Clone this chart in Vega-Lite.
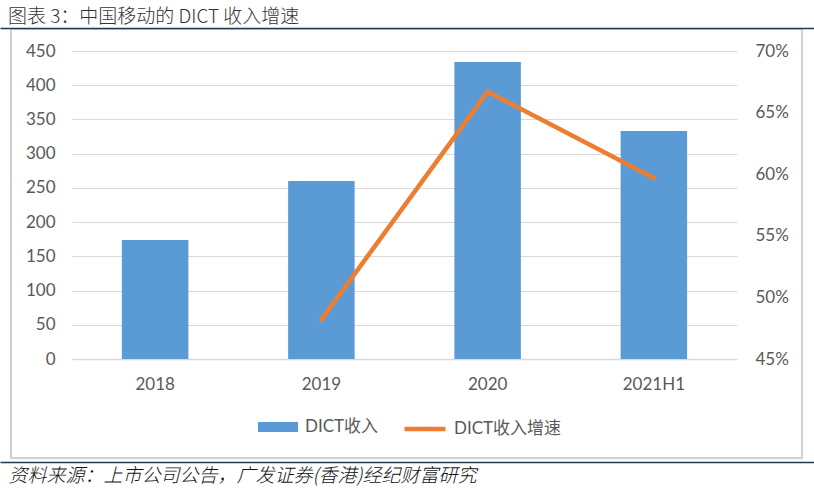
{
  "$schema": "https://vega.github.io/schema/vega-lite/v6.json",
  "autosize": "none",
  "width": 791,
  "height": 429,
  "padding": {"left": 11, "top": 29, "right": 12, "bottom": 34},
  "background": "white",
  "title": {
    "text": "图表 3：中国移动的 DICT 收入增速",
    "anchor": "start",
    "frame": "group",
    "dx": -3,
    "offset": 1,
    "font": "Noto Sans CJK SC",
    "fontSize": 19,
    "fontWeight": 300,
    "color": "#333333"
  },
  "config": {
    "view": {"stroke": "#d0d0d0", "strokeWidth": 2},
    "axis": {"labelFont": "Lato", "labelFontSize": 17, "labelColor": "#595959"},
    "legend": {"labelFont": "Lato, Noto Sans CJK SC", "labelFontSize": 17, "labelColor": "#595959", "padding": 0, "title": null}
  },
  "data": {
    "values": [
      {"year": "2018", "revenue": 174, "growth": null},
      {"year": "2019", "revenue": 260, "growth": 0.482},
      {"year": "2020", "revenue": 434, "growth": 0.667},
      {"year": "2021H1", "revenue": 333, "growth": 0.597}
    ]
  },
  "layer": [
    {
      "mark": {"type": "bar"},
      "encoding": {
        "x": {
          "field": "year", "type": "nominal", "sort": null,
          "scale": {"domain": ["2018", "2019", "2020", "2021H1"], "range": [61, 726], "paddingInner": 0.6, "paddingOuter": 0.3},
          "axis": {
            "orient": "bottom", "offset": -99, "domain": true, "domainColor": "#d9d9d9", "domainWidth": 1.5,
            "ticks": false, "tickSize": 0, "labelPadding": 17, "labelAngle": 0, "grid": false,
            "title": "资料来源：上市公司公告，广发证券(香港)经纪财富研究",
            "titleX": -3, "titleY": 116, "titleAlign": "left", "titleAnchor": "start", "titleBaseline": "middle",
            "titleFont": "Noto Sans CJK SC", "titleFontSize": 19, "titleFontStyle": "italic", "titleFontWeight": 300, "titleColor": "#111111"
          }
        },
        "y": {
          "field": "revenue", "type": "quantitative",
          "scale": {"domain": [0, 450], "range": [330, 22], "nice": false},
          "axis": {
            "orient": "left", "offset": -61, "values": [0, 50, 100, 150, 200, 250, 300, 350, 400, 450],
            "grid": true, "gridColor": "#d9d9d9", "gridWidth": 1, "domain": false, "ticks": false, "tickSize": 0,
            "labelPadding": 17, "title": null
          }
        },
        "color": {
          "datum": "DICT收入",
          "scale": {"range": ["#5b9bd5"]},
          "legend": {
            "orient": "none", "legendX": 257, "legendY": 388,
            "symbolType": "M-2,-0.5H2V0.5H-2Z", "symbolSize": 400, "symbolStrokeWidth": 0, "labelOffset": 17
          }
        }
      }
    },
    {
      "transform": [{"filter": "isValid(datum.growth)"}],
      "mark": {"type": "line", "strokeWidth": 4.5, "strokeCap": "round", "strokeJoin": "round"},
      "encoding": {
        "x": {
          "field": "year", "type": "nominal", "sort": null,
          "scale": {"domain": ["2018", "2019", "2020", "2021H1"], "range": [61, 726], "paddingInner": 0.6, "paddingOuter": 0.3},
          "axis": null
        },
        "y": {
          "field": "growth", "type": "quantitative",
          "scale": {"domain": [0.45, 0.70], "range": [330, 22], "nice": false, "zero": false},
          "axis": {
            "orient": "right", "offset": -65, "format": ".0%", "values": [0.45, 0.5, 0.55, 0.6, 0.65, 0.7],
            "grid": false, "domain": false, "ticks": false, "tickSize": 0, "labelPadding": 18, "title": null
          }
        },
        "color": {
          "datum": "DICT收入增速",
          "scale": {"range": ["#ed7d31"]},
          "legend": {
            "orient": "none", "legendX": 391, "legendY": 377,
            "symbolType": "stroke", "symbolSize": 1681, "symbolStrokeWidth": 4.5, "labelOffset": 6
          }
        }
      }
    },
    {
      "data": {"values": [{"k": "a"}]},
      "mark": {"type": "point", "opacity": 0},
      "encoding": {
        "x": {
          "field": "k", "type": "nominal",
          "scale": {"range": [-11, 803]},
          "axis": {"orient": "top", "offset": 1, "domain": true, "domainColor": "#1f3a52", "domainWidth": 1.5, "labels": false, "ticks": false, "grid": false, "title": null}
        }
      }
    },
    {
      "data": {"values": [{"k2": "b"}]},
      "mark": {"type": "point", "opacity": 0},
      "encoding": {
        "x": {
          "field": "k2", "type": "nominal",
          "scale": {"range": [-11, 803]},
          "axis": {"orient": "bottom", "offset": 4, "domain": true, "domainColor": "#1f3a52", "domainWidth": 1.5, "labels": false, "ticks": false, "grid": false, "title": null}
        }
      }
    }
  ],
  "resolve": {"scale": {"x": "independent", "y": "independent", "color": "independent"}}
}
